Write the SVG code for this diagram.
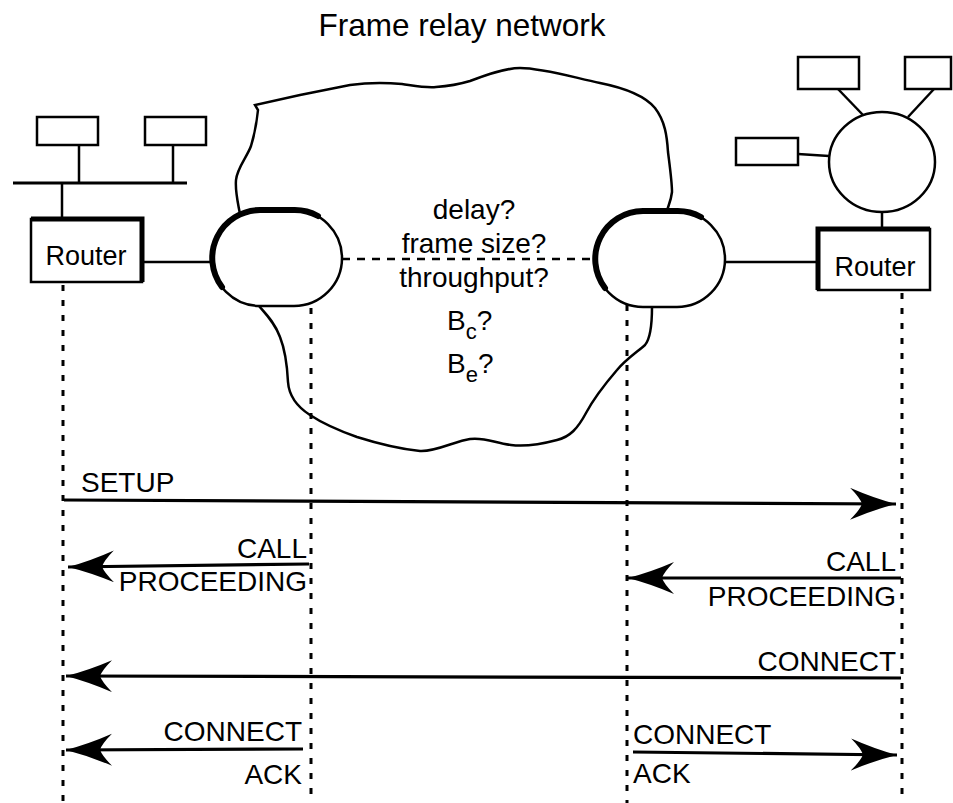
<svg xmlns="http://www.w3.org/2000/svg" width="953" height="803" viewBox="0 0 953 803">
<defs>
<style>
.ln{stroke:#000;stroke-width:2.5;fill:none}
.box{stroke:#000;stroke-width:2.5;fill:#fff}
.thick{stroke:#000;stroke-width:6;fill:none;stroke-linecap:round}
.dash{stroke:#000;stroke-width:3;stroke-dasharray:6 9;fill:none}
.dash2{stroke:#000;stroke-width:2.5;stroke-dasharray:8 7;fill:none}
.arr{stroke:#000;stroke-width:3.2;fill:none;marker-end:url(#ah)}
text{font-family:"Liberation Sans",Arial,Helvetica,sans-serif;fill:#000}
.lbl{font-size:28px}
.ctr{font-size:28px;text-anchor:middle}
.sub{font-size:22px}
</style>
<marker id="ah" markerUnits="userSpaceOnUse" markerWidth="50" markerHeight="36" refX="46" refY="16" orient="auto" viewBox="0 0 50 36">
<path d="M46,16 Q23,10 0,0 Q10,10 12,16 Q10,22 0,32 Q23,22 46,16 Z" fill="#000"/>
</marker>
</defs>
<rect width="953" height="803" fill="#fff"/>

<text x="462" y="36" style="font-size:31.5px" text-anchor="middle">Frame relay network</text>

<g id="cloud">
<path class="ln" d="M240,214 C238,203 235,192 236,180 C237,168 247,157 251,146 C255,133 257,120 258,110 L255,105 L300,95 L350,85 C372,82 390,83 402,84 C416,86 426,88 436,87 C450,86 460,84 470,81 C486,75 505,68 520,68 C542,68 572,77 600,83 C625,88 645,96 655,108 C665,121 667,136 668,152 C670,168 672,182 672,192 C671,201 668,206 667,211"/>
<path class="ln" d="M652,307 C652,324 651,338 645,345 C637,352 625,360 617,370 C605,384 595,396 586,413 C578,428 570,437 557,440 C542,444 526,447 511,445 C495,443 485,437 470,439 C455,441 436,452 420,451 C400,449 376,443 357,437 C340,431 322,423 310,415 C296,406 289,396 288,382 C287,362 284,347 280,337 C275,323 266,314 259,306"/>
</g>

<g id="left-lan">
<rect class="box" x="37" y="117" width="61" height="28"/>
<rect class="box" x="145" y="117" width="61" height="28"/>
<line class="ln" x1="79" y1="145" x2="79" y2="183"/>
<line class="ln" x1="173" y1="145" x2="173" y2="183"/>
<line x1="13" y1="183" x2="187" y2="183" stroke="#000" stroke-width="3"/>
<line class="ln" x1="62" y1="183" x2="62" y2="218"/>
</g>

<g id="left-router">
<rect class="box" x="31" y="219" width="111" height="63"/>
<polyline points="31,219 142,219 142,282" fill="none" stroke="#000" stroke-width="5"/>
<text x="86" y="265" style="font-size:27px" text-anchor="middle">Router</text>
</g>

<g id="right-lan">
<rect class="box" x="798" y="57" width="61" height="32"/>
<rect class="box" x="905" y="57" width="46" height="32"/>
<rect class="box" x="736" y="138" width="62" height="27"/>
<line class="ln" x1="838" y1="89" x2="863" y2="115"/>
<line class="ln" x1="934" y1="89" x2="908" y2="117"/>
<line class="ln" x1="798" y1="154" x2="829" y2="156"/>
<ellipse class="box" cx="882" cy="162" rx="53" ry="50"/>
<line class="ln" x1="882" y1="212" x2="882" y2="228"/>
</g>

<g id="right-router">
<rect class="box" x="818" y="229" width="112" height="61"/>
<polyline points="818,290 818,229 930,229" fill="none" stroke="#000" stroke-width="5"/>
<text x="875" y="276" style="font-size:27px" text-anchor="middle">Router</text>
</g>

<g id="left-switch">
<path class="box" d="M260,210 L294,210 A48,48 0 0 1 294,306 L260,306 A48,48 0 0 1 260,210 Z"/>
<path class="thick" d="M222,287 A48,48 0 0 1 260,210 L294,210 A48,48 0 0 1 318,216"/>
</g>

<g id="right-switch">
<path class="box" d="M643,211 L677,211 A48,48 0 0 1 677,307 L643,307 A48,48 0 0 1 643,211 Z"/>
<path class="thick" d="M605,288 A48,48 0 0 1 643,211 L677,211 A48,48 0 0 1 701,217"/>
</g>

<g id="questions">
<text class="ctr" x="474" y="219">delay?</text>
<text class="ctr" x="474" y="253">frame size?</text>
<text class="ctr" x="474" y="287">throughput?</text>
<text x="447" y="330" class="lbl">B<tspan class="sub" dy="9">c</tspan><tspan dy="-9">?</tspan></text>
<text x="447" y="373" class="lbl">B<tspan class="sub" dy="9">e</tspan><tspan dy="-9">?</tspan></text>
</g>

<g id="connectors">
<line class="ln" x1="142" y1="262" x2="212" y2="262"/>
<line class="ln" x1="725" y1="262" x2="818" y2="262"/>
<line class="dash2" x1="342" y1="259" x2="595" y2="259"/>
<line class="dash" x1="63" y1="285" x2="63" y2="803"/>
<line class="dash" x1="311" y1="308" x2="311" y2="803"/>
<line class="dash" x1="627" y1="305" x2="627" y2="803"/>
<line class="dash" x1="902" y1="293" x2="902" y2="803"/>

<line class="arr" x1="64" y1="500" x2="896" y2="504"/>
<line class="arr" x1="309" y1="564" x2="68" y2="567"/>
<line class="arr" x1="901" y1="578" x2="628" y2="578"/>
<line class="arr" x1="901" y1="678" x2="66" y2="676"/>
<line class="arr" x1="303" y1="749" x2="66" y2="750"/>
<line class="arr" x1="633" y1="752" x2="897" y2="755"/>
</g>

<g id="labels">
<text class="lbl" x="81" y="492">SETUP</text>
<text class="lbl" x="307" y="558" text-anchor="end">CALL</text>
<text class="lbl" x="307" y="591" text-anchor="end">PROCEEDING</text>
<text class="lbl" x="896" y="571" text-anchor="end">CALL</text>
<text class="lbl" x="896" y="606" text-anchor="end">PROCEEDING</text>
<text class="lbl" x="896" y="671" text-anchor="end">CONNECT</text>
<text class="lbl" x="302" y="741" text-anchor="end">CONNECT</text>
<text class="lbl" x="302" y="784" text-anchor="end">ACK</text>
<text class="lbl" x="633" y="744">CONNECT</text>
<text class="lbl" x="633" y="783">ACK</text>
</g>
</svg>
